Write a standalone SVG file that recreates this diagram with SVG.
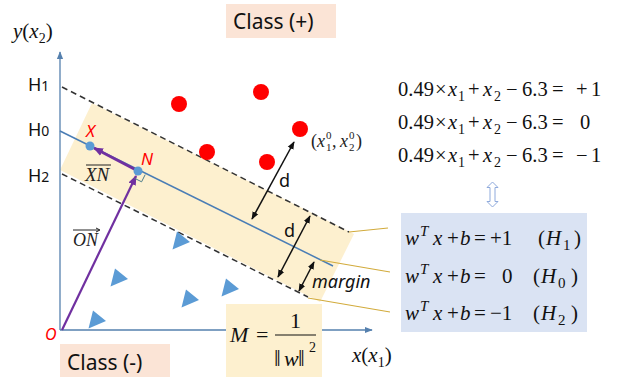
<svg xmlns="http://www.w3.org/2000/svg" width="622" height="377" viewBox="0 0 622 377">
<style>
.sans{font-family:"Noto Sans","Open Sans","Liberation Sans",sans-serif}
.serif{font-family:"Liberation Serif","DejaVu Serif",serif}
.it{font-style:italic}
.axis{stroke:#5580AE;stroke-width:1.3;fill:none}
.dash{stroke:#333;stroke-width:1.5;stroke-dasharray:6 4;fill:none}
.lead{stroke:#D2AB3C;stroke-width:1.1;fill:none}
.dim{stroke:#111;stroke-width:1.5;fill:none;marker-start:url(#blk);marker-end:url(#blk)}
.dot{fill:#FF0000}
.tri{fill:#5B9BD5}
.red{fill:#FF0000}
</style>
<defs>
<marker id="ax" viewBox="0 0 10 10" refX="9" refY="5" markerWidth="8" markerHeight="8" markerUnits="userSpaceOnUse" orient="auto"><path d="M0,1 L10,5 L0,9 Z" fill="#5580AE"/></marker>
<marker id="pur" viewBox="0 0 10 10" refX="9" refY="5" markerWidth="10" markerHeight="10" markerUnits="userSpaceOnUse" orient="auto"><path d="M0,1 L10,5 L0,9 Z" fill="#7030A0"/></marker>
<marker id="blk" viewBox="0 0 10 10" refX="9" refY="5" markerWidth="8" markerHeight="8" markerUnits="userSpaceOnUse" orient="auto-start-reverse"><path d="M0,1 L10,5 L0,9 Z" fill="#111"/></marker>
<path id="tr" d="M-3,-9.5 L-7.5,8.5 L10,1 Z"/>
</defs>
<rect width="622" height="377" fill="#fff"/>

<g id="band"><polygon points="92,103 354,234 320,302 60,170" fill="#FDF0CF"/></g>

<g id="class-plus"><rect x="226" y="4" width="110" height="34" fill="#FBE4D6"/><text class="sans" x="233" y="29" font-size="21" fill="#111">Class (+)</text></g>
<g id="class-minus"><rect x="60" y="344" width="110" height="33" fill="#FBE4D6"/><text class="sans" x="67" y="370" font-size="21" fill="#111">Class (-)</text></g>

<g id="axes">
<line class="axis" x1="60" y1="330" x2="60" y2="52" marker-end="url(#ax)"/>
<line class="axis" x1="60" y1="330" x2="372" y2="330" marker-end="url(#ax)"/>
<text class="serif it" x="13" y="38" font-size="21" fill="#111">y<tspan font-style="normal">(</tspan>x<tspan dy="5" font-size="14" font-style="normal">2</tspan><tspan dy="-5" font-style="normal">)</tspan></text>
<text class="serif it" x="352" y="362" font-size="21" fill="#111">x<tspan font-style="normal">(</tspan>x<tspan dy="5" font-size="14" font-style="normal">1</tspan><tspan dy="-5" font-style="normal">)</tspan></text>
<text class="sans it red" x="45" y="340" font-size="16">O</text>
</g>

<g id="h-labels" class="sans" fill="#111">
<text x="28" y="91" font-size="18">H<tspan font-size="14">1</tspan></text>
<text x="28" y="136" font-size="18">H<tspan font-size="14">0</tspan></text>
<text x="28" y="182" font-size="18">H<tspan font-size="14">2</tspan></text>
</g>

<g id="hyperplanes">
<line class="dash" x1="62" y1="87" x2="349" y2="232"/>
<line x1="60" y1="131" x2="333" y2="266" stroke="#4A7DB5" stroke-width="1.5"/>
<line class="dash" x1="62" y1="174" x2="308" y2="297"/>
</g>

<g id="connectors">
<line class="lead" x1="349" y1="232" x2="388" y2="228"/>
<line class="lead" x1="320" y1="260" x2="390" y2="272"/>
<line class="lead" x1="308" y1="298" x2="390" y2="312"/>
<line class="dim" x1="252" y1="219" x2="294" y2="142"/>
<line class="dim" x1="310" y1="216" x2="278" y2="277"/>
<line class="dim" x1="314" y1="262" x2="299" y2="291"/>
<line x1="62" y1="330" x2="136" y2="176" stroke="#7030A0" stroke-width="2.2" marker-end="url(#pur)"/>
<line x1="138" y1="171" x2="94" y2="148" stroke="#7030A0" stroke-width="2.8" marker-end="url(#pur)"/>
<polyline points="145.2,174.6 141.6,181.8 134.4,178.2" fill="none" stroke="#4B7C8A" stroke-width="1"/>
</g>

<g id="plus-points">
<circle class="dot" cx="179" cy="104" r="8"/>
<circle class="dot" cx="261" cy="92" r="8"/>
<circle class="dot" cx="300" cy="129" r="8"/>
<circle class="dot" cx="207" cy="152" r="8"/>
<circle class="dot" cx="267" cy="162" r="8"/>
</g>
<g id="minus-points">
<use href="#tr" class="tri" x="180" y="241"/>
<use href="#tr" class="tri" x="118" y="278"/>
<use href="#tr" class="tri" x="189" y="299"/>
<use href="#tr" class="tri" x="229" y="288"/>
<use href="#tr" class="tri" x="96" y="320"/>
</g>

<g id="point-X"><circle cx="90" cy="146" r="4.5" fill="#5B9BD5"/><text class="sans it red" x="86" y="137" font-size="17">X</text></g>
<g id="point-N"><circle cx="138" cy="171" r="4.5" fill="#5B9BD5"/><text class="sans it red" x="141" y="165" font-size="17">N</text></g>
<g id="label-XN"><line x1="86" y1="165" x2="111" y2="165" stroke="#222" stroke-width="1"/><text class="serif it" x="85" y="181" font-size="19" fill="#222">XN</text></g>
<g id="label-ON"><line x1="73" y1="230" x2="99" y2="230" stroke="#222" stroke-width="1"/><path d="M96,228 L100,230 L96,232" fill="none" stroke="#222" stroke-width="1"/><text class="serif it" x="73" y="246" font-size="18" fill="#222">ON</text></g>

<g id="point-label"><text class="serif" font-size="18" fill="#222" y="147"><tspan x="311">(</tspan><tspan x="317" font-style="italic">x</tspan><tspan x="326" dy="4" font-size="11">1</tspan><tspan x="326" dy="-12" font-size="11">0</tspan><tspan x="332" dy="8">,</tspan><tspan x="340" font-style="italic">x</tspan><tspan x="349" dy="4" font-size="11">2</tspan><tspan x="349" dy="-12" font-size="11">0</tspan><tspan x="356" dy="8">)</tspan></text></g>

<g id="d-labels" class="sans" fill="#111">
<text x="279" y="187" font-size="18">d</text>
<text x="284" y="237" font-size="18">d</text>
<text class="it" x="312" y="288" font-size="18">margin</text>
</g>

<g id="equations-top" class="serif" font-size="20.5" fill="#111">
<text y="96"><tspan x="398">0.49</tspan><tspan x="435">×</tspan><tspan x="448" font-style="italic">x</tspan><tspan x="458" dy="5" font-size="14">1</tspan><tspan x="468" dy="-5">+</tspan><tspan x="483" font-style="italic">x</tspan><tspan x="494" dy="5" font-size="14">2</tspan><tspan x="506" dy="-5">−</tspan><tspan x="522">6.3</tspan><tspan x="552">=</tspan><tspan x="576">+</tspan><tspan x="591">1</tspan></text>
<text y="129"><tspan x="398">0.49</tspan><tspan x="435">×</tspan><tspan x="448" font-style="italic">x</tspan><tspan x="458" dy="5" font-size="14">1</tspan><tspan x="468" dy="-5">+</tspan><tspan x="483" font-style="italic">x</tspan><tspan x="494" dy="5" font-size="14">2</tspan><tspan x="506" dy="-5">−</tspan><tspan x="522">6.3</tspan><tspan x="552">=</tspan><tspan x="580">0</tspan></text>
<text y="162"><tspan x="398">0.49</tspan><tspan x="435">×</tspan><tspan x="448" font-style="italic">x</tspan><tspan x="458" dy="5" font-size="14">1</tspan><tspan x="468" dy="-5">+</tspan><tspan x="483" font-style="italic">x</tspan><tspan x="494" dy="5" font-size="14">2</tspan><tspan x="506" dy="-5">−</tspan><tspan x="522">6.3</tspan><tspan x="552">=</tspan><tspan x="576">−</tspan><tspan x="591">1</tspan></text>
</g>

<g id="equiv-arrow"><path d="M492.5,182 L498,187.5 L495,187.5 L495,201.5 L498,201.5 L492.5,207 L487,201.5 L490,201.5 L490,187.5 L487,187.5 Z" fill="#fff" stroke="#8FAADC" stroke-width="1"/></g>

<g id="equations-box">
<rect x="401" y="213" width="186" height="119" fill="#DAE3F3"/>
<g class="serif" font-size="21" fill="#111">
<text y="245"><tspan x="405" font-style="italic">w</tspan><tspan x="420" dy="-9" font-size="15" font-style="italic">T</tspan><tspan x="433" dy="9" font-style="italic">x</tspan><tspan x="447">+</tspan><tspan x="460" font-style="italic">b</tspan><tspan x="474">=</tspan><tspan x="490">+1</tspan><tspan x="538">(</tspan><tspan x="546" font-style="italic">H</tspan><tspan x="563" dy="5" font-size="15">1</tspan><tspan x="574" dy="-5">)</tspan></text>
<text y="283"><tspan x="405" font-style="italic">w</tspan><tspan x="420" dy="-9" font-size="15" font-style="italic">T</tspan><tspan x="433" dy="9" font-style="italic">x</tspan><tspan x="447">+</tspan><tspan x="460" font-style="italic">b</tspan><tspan x="474">=</tspan><tspan x="502">0</tspan><tspan x="533">(</tspan><tspan x="541" font-style="italic">H</tspan><tspan x="558" dy="5" font-size="15">0</tspan><tspan x="571" dy="-5">)</tspan></text>
<text y="320"><tspan x="405" font-style="italic">w</tspan><tspan x="420" dy="-9" font-size="15" font-style="italic">T</tspan><tspan x="433" dy="9" font-style="italic">x</tspan><tspan x="447">+</tspan><tspan x="460" font-style="italic">b</tspan><tspan x="474">=</tspan><tspan x="490">−1</tspan><tspan x="533">(</tspan><tspan x="541" font-style="italic">H</tspan><tspan x="558" dy="5" font-size="15">2</tspan><tspan x="571" dy="-5">)</tspan></text>
</g>
</g>

<g id="margin-formula">
<rect x="226" y="304" width="96" height="73" fill="#FDF0CF"/>
<g class="serif" font-size="22" fill="#111">
<text x="230" y="342" font-style="italic">M</text>
<text x="256" y="342">=</text>
<text x="290" y="328">1</text>
<line x1="275" y1="335" x2="316" y2="335" stroke="#111" stroke-width="1.2"/>
<text y="366"><tspan x="274" font-size="24">‖</tspan><tspan x="284" font-style="italic">w</tspan><tspan x="298" font-size="24">‖</tspan><tspan x="309" dy="-14" font-size="14">2</tspan></text>
</g>
</g>
</svg>
